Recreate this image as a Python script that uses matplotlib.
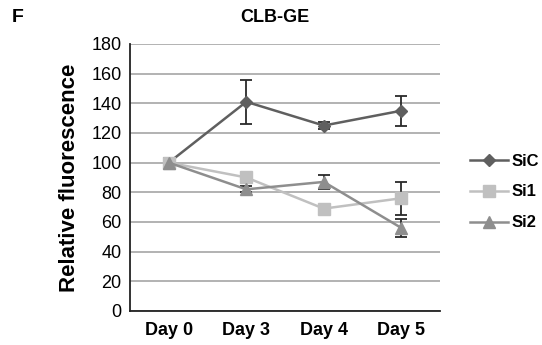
import numpy as np
import matplotlib.pyplot as plt
from matplotlib.lines import Line2D

plt.rcParams['font.family'] = ['Liberation Sans', 'DejaVu Sans']

days = ['Day 0', 'Day 3', 'Day 4', 'Day 5']
sic = [100, 141, 125, 135]
sic_err = [3, 15, 2.5, 10]
si1 = [100, 90, 69, 76]
si1_err = [3, 3, 0, 11]
si2 = [100, 82, 87, 56]
si2_err = [3, 2, 5, 6]

series = [
    ('SiC', sic, sic_err, '#5f5f5f', 'D', 6),
    ('Si1', si1, si1_err, '#c0c0c0', 's', 8),
    ('Si2', si2, si2_err, '#8e8e8e', '^', 8),
]

fig = plt.figure(figsize=(5.42, 3.45), dpi=100)
ax = fig.add_axes([0.2399, 0.0986, 0.572, 0.774])

x = np.arange(len(days))
for name, vals, err, col, mk, ms in series:
    ax.errorbar(x, vals, yerr=err, color=col, marker=mk, markersize=ms, linewidth=1.8,
                ecolor='#2a2a2a', elinewidth=1.3, capsize=4, capthick=1.3, label=name, zorder=3)

ax.set_xlim(-0.5, 3.5)
ax.set_ylim(0, 180)
ax.set_yticks(range(0, 181, 20))
ax.set_xticks(x)
ax.set_xticklabels(days, fontweight='bold', fontsize=13)
ax.tick_params(axis='y', labelsize=13, length=0, pad=6)
ax.tick_params(axis='x', length=0, pad=8)
ax.yaxis.grid(True, color='#a6a6a6', linewidth=1.2)
ax.set_axisbelow(True)
for s in ['top', 'right']:
    ax.spines[s].set_visible(False)
ax.spines['left'].set_color('#222222')
ax.spines['bottom'].set_color('#222222')
ax.spines['left'].set_linewidth(1.3)
ax.spines['bottom'].set_linewidth(1.3)

ax.set_ylabel('Relative fluorescence', fontweight='bold', fontsize=16, labelpad=8)
fig.text(0.507, 1 - 17 / 345, 'CLB-GE', fontweight='bold', fontsize=13, ha='center', va='center')
fig.text(12 / 542, 1 - 17 / 345, 'F', fontweight='bold', fontsize=14, va='center')

hs = [Line2D([], [], color=c, marker=m, markersize=ms, linewidth=1.8) for _, _, _, c, m, ms in series]
fig.legend(hs, [s[0] for s in series], loc='center left', bbox_to_anchor=(470 / 542, 1 - 192 / 345),
           frameon=False, prop={'weight': 'bold', 'size': 12}, handlelength=2.3,
           labelspacing=0.95, handletextpad=0.2, borderpad=0, borderaxespad=0)

fig.savefig('out.png', dpi=100)
